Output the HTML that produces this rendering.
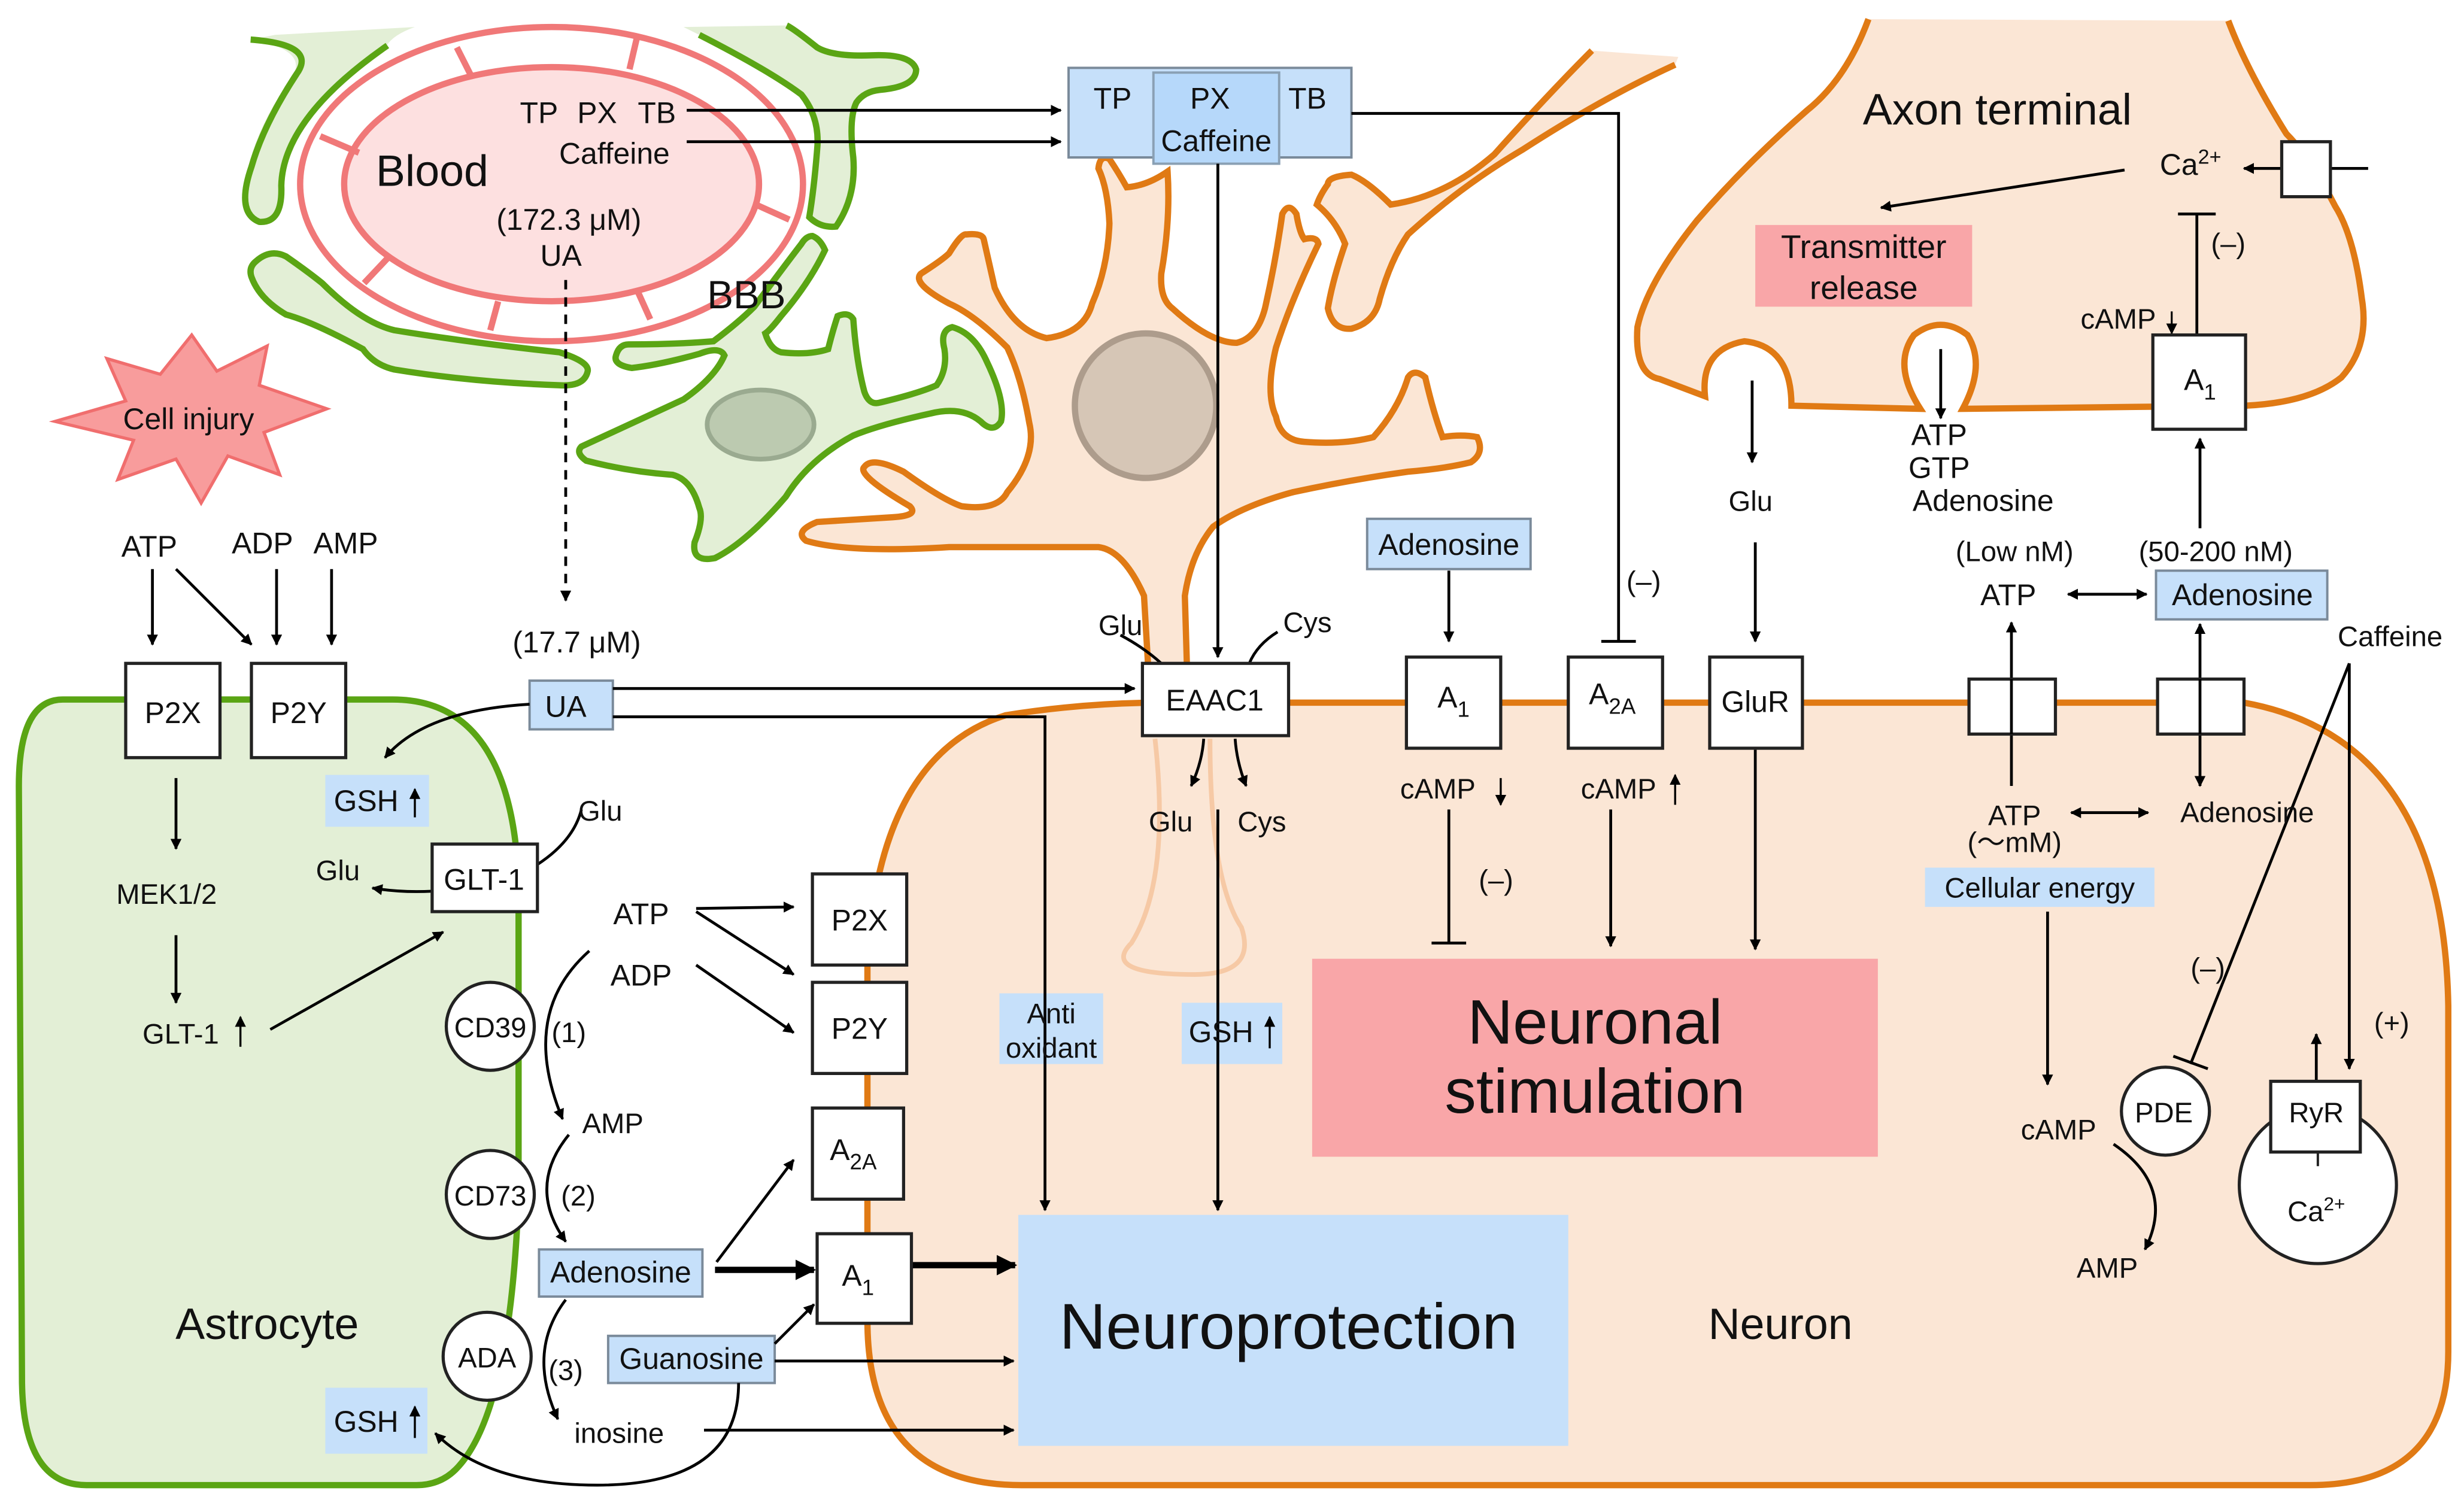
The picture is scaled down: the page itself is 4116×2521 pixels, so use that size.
<!DOCTYPE html>
<html><head><meta charset="utf-8"><style>
html,body{margin:0;padding:0;background:#fff;}
svg{display:block;}
text{font-family:"Liberation Sans",Arial,sans-serif;fill:#111;}
</style></head><body>
<svg width="4116" height="2521" viewBox="0 0 1568 960" xmlns="http://www.w3.org/2000/svg">
<defs>
<marker id="a" viewBox="0 0 10 10" refX="9" refY="5" markerWidth="7" markerHeight="7" orient="auto-start-reverse" markerUnits="userSpaceOnUse"><path d="M0,0 L10,5 L0,10 z" fill="#000"/></marker>
<marker id="b" viewBox="0 0 10 10" refX="9" refY="5" markerWidth="13" markerHeight="13" orient="auto" markerUnits="userSpaceOnUse"><path d="M0,0 L10,5 L0,10 z" fill="#000"/></marker>
</defs>

<!-- Neuron body -->
<path d="M740,447 L1428,447 Q1555,470 1558,640 L1558,860 Q1558,945 1470,945 L650,945 Q552,945 552,840 L552,610 Q560,480 640,455 Q690,447 740,447 Z" fill="#fbe6d5" stroke="#e07a14" stroke-width="4"/>
<path d="M735,470 Q745,560 720,600 Q700,620 760,620 Q800,620 790,590 Q770,560 770,470" fill="none" stroke="#f6c9a5" stroke-width="3"/>

<!-- Astrocyte -->
<path d="M40,445 L250,445 Q325,445 330,560 L330,760 Q325,900 290,935 Q280,945 265,945 L55,945 Q15,945 14,880 L12,500 Q12,445 40,445 Z" fill="#e3efd6" stroke="#5aa514" stroke-width="4"/>

<!-- Soma -->
<path d="M732,447 L728,379 Q715,350 699,348 L604,348 Q540,352 513,344 Q505,338 520,332 L568,329 Q585,328 579,322 Q545,302 550,297 Q555,290 575,300 Q600,318 612,322 Q635,325 641,313 Q660,290 655,269 Q650,240 641,221 Q620,200 604,193 Q580,180 586,174 Q600,165 604,161 Q612,148 615,149 Q625,148 626,152 Q630,170 633,183 Q645,210 666,215 Q690,212 695,193 Q705,170 706,142 Q705,120 699,107 Q700,98 706,101 Q712,110 717,119 Q730,118 743,109 Q745,140 739,174 Q738,190 746,196 Q770,218 787,218 Q800,215 805,196 Q812,165 816,136 Q820,128 825,136 Q827,148 830,152 Q838,150 839,155 Q822,190 812,221 Q805,250 812,265 Q815,280 830,281 Q855,283 874,278 Q890,260 896,240 Q900,234 907,240 Q912,262 918,278 Q930,276 940,278 Q945,288 936,294 Q920,298 896,300 Q860,305 823,313 Q790,322 772,335 Q758,352 754,379 L756,447 Z" fill="#fbe6d5" stroke="#e07a14" stroke-width="4"/>
<ellipse cx="729" cy="258" rx="45" ry="46" fill="#d6c6b6" stroke="#ad9c8c" stroke-width="4"/>
<path d="M1013,32 Q985,60 951,98 Q920,125 885,130 Q870,115 860,111 Q845,112 845,117 Q840,124 838,130 Q850,140 856,155 Q848,178 845,196 Q848,210 860,209 Q875,205 878,190 Q885,165 896,149 Q930,118 969,95 Q1020,62 1066,41 L1068,36 Q1040,34 1013,32 Z" fill="#fbe6d5" stroke="none"/>
<path d="M1013,32 Q985,60 951,98 Q920,125 885,130 Q870,115 860,111 Q845,112 845,117 Q840,124 838,130 Q850,140 856,155 Q848,178 845,196 Q848,210 860,209 Q875,205 878,190 Q885,165 896,149 Q930,118 969,95 Q1020,62 1066,41" fill="none" stroke="#e07a14" stroke-width="4"/>

<!-- Axon terminal -->
<path d="M1189,12 Q1175,50 1150,70 Q1110,105 1080,140 Q1048,180 1042,208 Q1040,238 1056,241 L1085,252 Q1082,222 1110,217 Q1140,220 1140,258 L1222,260 Q1204,232 1218,213 Q1235,200 1252,213 Q1264,232 1249,260 L1429,258 Q1470,256 1490,240 Q1508,220 1503,190 Q1498,150 1486,131 Q1470,100 1455,85 Q1430,45 1418,13 Z" fill="#fbe6d5" stroke="none"/>
<path d="M1189,12 Q1175,50 1150,70 Q1110,105 1080,140 Q1048,180 1042,208 Q1040,238 1056,241 L1085,252 Q1082,222 1110,217 Q1140,220 1140,258 L1222,260 Q1204,232 1218,213 Q1235,200 1252,213 Q1264,232 1249,260 L1429,258 Q1470,256 1490,240 Q1508,220 1503,190 Q1498,150 1486,131 Q1470,100 1455,85 Q1430,45 1418,13" fill="none" stroke="#e07a14" stroke-width="4"/>

<!-- Glia around vessel -->
<path d="M175,22 L264,17 Q250,22 246,29 Q185,75 179,115 Q178,142 165,141 Q150,135 158,106 Q165,78 185,50 Q198,32 160,25 Z" fill="#e3efd6"/>
<path d="M159.5,25 Q200,28 190,45 Q168,78 160,106 Q150,135 165,141 Q180,142 179,118 Q180,75 246.5,28.8" fill="none" stroke="#5aa514" stroke-width="4"/>
<path d="M435,17 L500,16 Q515,30 530,35 Q575,32 583,45 Q585,55 556,58 Q543,62 543,80 Q545,120 532,144 Q518,142 515,138 Q522,110 520,92 Q515,65 510,60 Q480,35 445,22 Z" fill="#e3efd6"/>
<path d="M445,22 Q490,45 510,60 Q522,75 520,95 Q518,120 515,138 Q522,145 532,144 Q545,125 543,100 Q540,75 545,65 Q550,58 560,57 Q583,55 583,44 Q580,34 555,35 Q530,36 520,30 Q505,18 500.6,16" fill="none" stroke="#5aa514" stroke-width="4"/>
<path d="M163,166 Q172,158 182,163 Q195,172 205,180 Q230,205 251,210 Q300,218 356,224 Q375,230 374,236 Q372,246 356,245 Q300,243 251,235 Q238,232 231,222 Q200,205 182,200 Q165,190 160,176 Q158,170 163,166 Z" fill="#e3efd6" stroke="#5aa514" stroke-width="4"/>
<path d="M517,150 Q522,152 525,159 Q515,180 497,201 Q490,210 487,212 Q490,222 497,224 Q515,226 527,222 Q530,210 533,201 Q540,198 543,203 Q545,230 550,249 Q553,258 560,256 Q585,250 596,245 Q603,235 601,222 Q598,210 606,208 Q620,212 628,230 Q640,255 637,268 Q632,276 624,268 Q612,258 592,263 Q560,270 543,277 Q515,292 500,316 Q475,345 455,355 Q440,358 442,345 Q448,330 445,323 Q440,305 428,302 Q400,300 373,293 Q366,288 370,284 Q400,270 435,254 Q455,240 461,226 Q458,220 445,225 Q420,232 402,234 Q390,232 392,226 Q394,219 400,219 Q430,219 454,217 Q470,205 480,195 Q500,168 510,155 Q513,150 517,150 Z" fill="#e3efd6" stroke="#5aa514" stroke-width="4"/>
<ellipse cx="484" cy="270" rx="34" ry="22" fill="#bccab0" stroke="#9aaa90" stroke-width="3"/>

<!-- Blood vessel -->
<ellipse cx="351" cy="117" rx="160" ry="100" fill="#ffffff" stroke="#f07878" stroke-width="4"/>
<ellipse cx="351" cy="117" rx="132" ry="74.5" fill="#fde0e0" stroke="#f07878" stroke-width="4"/>
<g stroke="#f07878" stroke-width="4">
<line x1="290.7" y1="30" x2="300.6" y2="49.6"/><line x1="405.5" y1="23" x2="400.6" y2="43.9"/>
<line x1="203.8" y1="86.5" x2="228.4" y2="97"/><line x1="481" y1="130" x2="502.3" y2="139.6"/>
<line x1="231.7" y1="180" x2="248" y2="162.7"/><line x1="312" y1="210" x2="317" y2="191.6"/>
<line x1="413.8" y1="203" x2="405.5" y2="184.6"/>
</g>

<!-- Cell injury star -->
<path d="M122,213 L138,236 L170,220 L165,245 L208,260 L168,275 L178,302 L145,290 L128,320 L112,292 L75,305 L85,280 L35,268 L80,255 L68,228 L102,238 Z" fill="#f89c9c" stroke="#f06e6e" stroke-width="2"/>

<!-- Filled rects -->
<g stroke="#7a8a9a" stroke-width="1.5">
<rect x="680" y="43" width="180" height="57" fill="#c6e0fa"/>
<rect x="734" y="46" width="80" height="58" fill="#b6d8fa" stroke="#8aa0b4"/>
<rect x="337" y="433" width="53" height="31" fill="#c6e0fa"/>
<rect x="870" y="330" width="104" height="32" fill="#c6e0fa"/>
<rect x="1372" y="363" width="109" height="31" fill="#c6e0fa"/>
<rect x="343" y="795" width="104" height="30" fill="#c6e0fa"/>
<rect x="387" y="850" width="106" height="30" fill="#c6e0fa"/>
</g>
<g fill="#c6e0fa">
<rect x="207" y="493" width="66" height="33"/>
<rect x="207" y="883" width="65" height="42"/>
<rect x="636" y="632" width="66" height="45"/>
<rect x="752" y="638" width="64" height="39"/>
<rect x="1225" y="552" width="146" height="25"/>
<rect x="648" y="773" width="350" height="147"/>
</g>
<rect x="835" y="610" width="360" height="126" fill="#f9a6a8"/>
<rect x="1117" y="143" width="138" height="52" fill="#f9a6a8"/>

<!-- Lines and arrows -->
<g stroke="#000" stroke-width="1.8" fill="none">
<line x1="437" y1="70" x2="675" y2="70" marker-end="url(#a)"/>
<line x1="437" y1="90" x2="675" y2="90" marker-end="url(#a)"/>
<polyline points="860,72 1030,72 1030,408"/><line x1="1019" y1="408" x2="1041" y2="408"/>
<line x1="775" y1="104" x2="775" y2="418" marker-end="url(#a)"/>
<line x1="360" y1="178" x2="360" y2="382" stroke-dasharray="6,5" marker-end="url(#a)"/>
<line x1="390" y1="438" x2="722" y2="438" marker-end="url(#a)"/>
<polyline points="390,456 665,456 665,770" marker-end="url(#a)"/>
<path d="M337,448 Q270,452 245,482" marker-end="url(#a)"/>
<line x1="97" y1="362" x2="97" y2="410" marker-end="url(#a)"/>
<line x1="112" y1="362" x2="160" y2="410" marker-end="url(#a)"/>
<line x1="176" y1="362" x2="176" y2="410" marker-end="url(#a)"/>
<line x1="211" y1="362" x2="211" y2="410" marker-end="url(#a)"/>
<line x1="112" y1="495" x2="112" y2="540" marker-end="url(#a)"/>
<line x1="112" y1="595" x2="112" y2="638" marker-end="url(#a)"/>
<line x1="172" y1="655" x2="282" y2="593" marker-end="url(#a)"/>
<path d="M370,515 Q365,535 342,550"/>
<path d="M275,567 Q255,568 237,565" marker-end="url(#a)"/>
<line x1="443" y1="578" x2="505" y2="577" marker-end="url(#a)"/>
<line x1="443" y1="580" x2="505" y2="620" marker-end="url(#a)"/>
<line x1="443" y1="614" x2="505" y2="657" marker-end="url(#a)"/>
<path d="M375,605 Q330,645 358,712" marker-end="url(#a)"/>
<path d="M362,722 Q335,755 360,790" marker-end="url(#a)"/>
<path d="M360,827 Q335,860 355,903" marker-end="url(#a)"/>
<line x1="456" y1="803" x2="505" y2="738" marker-end="url(#a)"/>
<line x1="493" y1="855" x2="518" y2="830" marker-end="url(#a)"/>
<line x1="493" y1="866" x2="645" y2="866" marker-end="url(#a)"/>
<line x1="448" y1="910" x2="645" y2="910" marker-end="url(#a)"/>
<path d="M470,880 Q470,945 380,945 Q310,945 277,912" marker-end="url(#a)"/>
<path d="M713,404 Q728,412 739,422"/>
<path d="M813,402 Q800,410 795,422"/>
<path d="M766,470 Q765,485 758,500" marker-end="url(#a)"/>
<path d="M786,470 Q787,485 793,500" marker-end="url(#a)"/>
<line x1="775" y1="515" x2="775" y2="770" marker-end="url(#a)"/>
<line x1="922" y1="363" x2="922" y2="408" marker-end="url(#a)"/>
<line x1="922" y1="515" x2="922" y2="600"/><line x1="911" y1="600" x2="933" y2="600"/>
<line x1="1025" y1="515" x2="1025" y2="602" marker-end="url(#a)"/>
<line x1="1115" y1="242" x2="1115" y2="294" marker-end="url(#a)"/>
<line x1="1117" y1="345" x2="1117" y2="408" marker-end="url(#a)"/>
<line x1="1117" y1="477" x2="1117" y2="604" marker-end="url(#a)"/>
<line x1="1235" y1="222" x2="1235" y2="266" marker-end="url(#a)"/>
<line x1="1400" y1="336" x2="1400" y2="279" marker-end="url(#a)"/>
<line x1="1398" y1="213" x2="1398" y2="136"/><line x1="1386" y1="136" x2="1410" y2="136"/>
<line x1="1352" y1="108" x2="1197" y2="132" marker-end="url(#a)"/>
<line x1="1452" y1="107" x2="1428" y2="107" marker-end="url(#a)"/>
<line x1="1483" y1="107" x2="1507" y2="107"/>
<line x1="1382" y1="198" x2="1382" y2="212" stroke-width="1.2" marker-end="url(#a)"/>
<line x1="1316" y1="378" x2="1366" y2="378" marker-start="url(#a)" marker-end="url(#a)"/>
<line x1="1280" y1="500" x2="1280" y2="396" marker-end="url(#a)"/>
<line x1="1400" y1="397" x2="1400" y2="500" marker-start="url(#a)" marker-end="url(#a)"/>
<line x1="1318" y1="517" x2="1367" y2="517" marker-start="url(#a)" marker-end="url(#a)"/>
<line x1="1303" y1="580" x2="1303" y2="690" marker-end="url(#a)"/>
<path d="M1345,728 Q1385,755 1365,795" marker-end="url(#a)"/>
<line x1="1495" y1="422" x2="1394" y2="677"/><line x1="1383" y1="672" x2="1405" y2="680"/>
<line x1="1495" y1="422" x2="1495" y2="680" marker-end="url(#a)"/>
<line x1="1474" y1="688" x2="1474" y2="658" marker-end="url(#a)"/>
<line x1="455" y1="808" x2="518" y2="808" stroke-width="4" marker-end="url(#b)"/>
<line x1="580" y1="805" x2="646" y2="805" stroke-width="4" marker-end="url(#b)"/>
</g>
<g stroke="#000" stroke-width="1.3" fill="none">
<line x1="264" y1="520" x2="264" y2="502" marker-end="url(#a)"/>
<line x1="264" y1="915" x2="264" y2="895" marker-end="url(#a)"/>
<line x1="808" y1="667" x2="808" y2="647" marker-end="url(#a)"/>
<line x1="153" y1="666" x2="153" y2="647" marker-end="url(#a)"/>
<line x1="955" y1="495" x2="955" y2="512" marker-end="url(#a)"/>
<line x1="1066" y1="512" x2="1066" y2="493" marker-end="url(#a)"/>
</g>

<!-- white boxes -->
<g fill="#fff" stroke="#222" stroke-width="2">
<rect x="80" y="422" width="60" height="60"/>
<rect x="160" y="422" width="60" height="60"/>
<rect x="275" y="537" width="67" height="43"/>
<rect x="727" y="422" width="93" height="46"/>
<rect x="895" y="418" width="60" height="58"/>
<rect x="998" y="418" width="60" height="58"/>
<rect x="1088" y="418" width="59" height="58"/>
<rect x="1253" y="432" width="55" height="35"/>
<rect x="1373" y="432" width="55" height="35"/>
<rect x="517" y="556" width="60" height="58"/>
<rect x="517" y="625" width="60" height="58"/>
<rect x="517" y="705" width="58" height="58"/>
<rect x="520" y="785" width="60" height="57"/>
<rect x="1370" y="213" width="59" height="60"/>
<rect x="1452" y="90" width="31" height="35"/>
<circle cx="312" cy="653" r="28"/>
<circle cx="312" cy="760" r="28"/>
<circle cx="310" cy="863" r="28"/>
<circle cx="1378" cy="707" r="28"/>
<circle cx="1475" cy="754" r="50"/>
<rect x="1445" y="688" width="57" height="45"/>
</g>
<line x1="1475" y1="733" x2="1475" y2="742" stroke="#222" stroke-width="1.5"/>
<line x1="1280" y1="432" x2="1280" y2="467" stroke="#000" stroke-width="1.8"/>
<line x1="1400" y1="432" x2="1400" y2="467" stroke="#000" stroke-width="1.8"/>

<!-- Text -->
<g font-size="19" text-anchor="middle">
<text x="708" y="69">TP</text><text x="770" y="69">PX</text><text x="832" y="69">TB</text>
<text x="774" y="96">Caffeine</text>
<text x="343" y="78">TP</text><text x="380" y="78">PX</text><text x="418" y="78">TB</text>
<text x="391" y="104">Caffeine</text>
<text x="362" y="146">(172.3 μM)</text>
<text x="357" y="169">UA</text>
<text x="367" y="415">(17.7 μM)</text>
<text x="360" y="456">UA</text>
<text x="95" y="354">ATP</text><text x="167" y="352">ADP</text><text x="220" y="352">AMP</text>
<text x="110" y="460">P2X</text><text x="190" y="460">P2Y</text>
<text x="233" y="516">GSH</text>
<text x="106" y="575" font-size="18">MEK1/2</text>
<text x="115" y="664" font-size="18">GLT-1</text>
<text x="308" y="566">GLT-1</text>
<text x="382" y="522" font-size="18">Glu</text>
<text x="215" y="560" font-size="18">Glu</text>
<text x="408" y="588">ATP</text><text x="408" y="627">ADP</text>
<text x="312" y="660" font-size="18">CD39</text>
<text x="312" y="767" font-size="18">CD73</text>
<text x="310" y="870" font-size="18">ADA</text>
<text x="362" y="663" font-size="18">(1)</text>
<text x="368" y="767" font-size="18">(2)</text>
<text x="360" y="878" font-size="18">(3)</text>
<text x="390" y="721" font-size="18">AMP</text>
<text x="395" y="816">Adenosine</text>
<text x="440" y="871">Guanosine</text>
<text x="394" y="918" font-size="18">inosine</text>
<text x="233" y="911">GSH</text>
<text x="547" y="592">P2X</text><text x="547" y="661">P2Y</text>
<text x="543" y="738">A<tspan font-size="14" dy="6">2A</tspan></text>
<text x="546" y="818">A<tspan font-size="14" dy="6">1</tspan></text>
<text x="669" y="651" font-size="18">Anti</text>
<text x="669" y="673" font-size="18">oxidant</text>
<text x="777" y="663">GSH</text>
<text x="773" y="452">EAAC1</text>
<text x="713" y="404" font-size="18">Glu</text><text x="832" y="402" font-size="18">Cys</text>
<text x="745" y="529" font-size="18">Glu</text><text x="803" y="529" font-size="18">Cys</text>
<text x="922" y="353">Adenosine</text>
<text x="925" y="450">A<tspan font-size="14" dy="6">1</tspan></text>
<text x="1026" y="448">A<tspan font-size="14" dy="6">2A</tspan></text>
<text x="1117" y="453">GluR</text>
<text x="915" y="508" font-size="18">cAMP</text>
<text x="1030" y="508" font-size="18">cAMP</text>
<text x="952" y="566" font-size="18">(–)</text>
<text x="1046" y="376" font-size="18">(–)</text>
<text x="1114" y="325" font-size="18">Glu</text>
<text x="1271" y="79" font-size="28">Axon terminal</text>
<text x="1186" y="164" font-size="21">Transmitter</text>
<text x="1186" y="190" font-size="21">release</text>
<text x="1394" y="111">Ca<tspan font-size="13" dy="-7">2+</tspan></text>
<text x="1348" y="209" font-size="18">cAMP</text>
<text x="1418" y="161" font-size="18">(–)</text>
<text x="1400" y="248">A<tspan font-size="14" dy="6">1</tspan></text>
<text x="1234" y="283" font-size="19">ATP</text>
<text x="1234" y="304" font-size="19">GTP</text>
<text x="1262" y="325" font-size="19">Adenosine</text>
<text x="1282" y="357" font-size="18">(Low nM)</text>
<text x="1410" y="357" font-size="18">(50-200 nM)</text>
<text x="1278" y="385">ATP</text>
<text x="1427" y="385">Adenosine</text>
<text x="1521" y="411" font-size="18">Caffeine</text>
<text x="1282" y="525" font-size="18">ATP</text>
<text x="1282" y="542" font-size="18">(～mM)</text>
<text x="1430" y="523" font-size="18">Adenosine</text>
<text x="1298" y="571" font-size="18">Cellular energy</text>
<text x="1310" y="725" font-size="18">cAMP</text>
<text x="1341" y="813" font-size="18">AMP</text>
<text x="1377" y="714" font-size="18">PDE</text>
<text x="1474" y="714" font-size="18">RyR</text>
<text x="1474" y="777" font-size="18">Ca<tspan font-size="12" dy="-7">2+</tspan></text>
<text x="1405" y="622" font-size="18">(–)</text>
<text x="1522" y="657" font-size="18">(+)</text>
<text x="120" y="273" font-size="19">Cell injury</text>
<text x="275" y="118" font-size="28">Blood</text>
<text x="475" y="196" font-size="25">BBB</text>
<text x="170" y="852" font-size="28">Astrocyte</text>
<text x="1133" y="852" font-size="28">Neuron</text>
<text x="1015" y="664" font-size="40">Neuronal</text>
<text x="1015" y="708" font-size="40">stimulation</text>
<text x="820" y="858" font-size="41">Neuroprotection</text>
</g>
</svg>
</body></html>
